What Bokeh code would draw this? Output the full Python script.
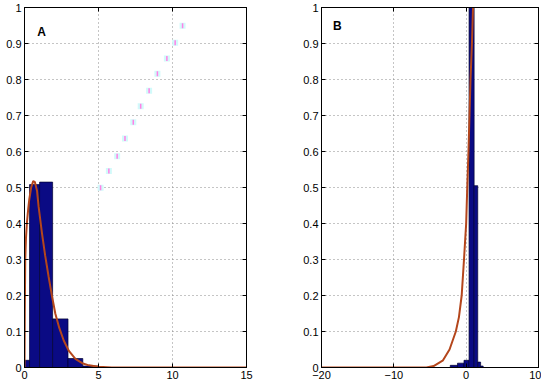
from bokeh.plotting import figure
from bokeh.layouts import row
from bokeh.models import Range1d, FixedTicker, LinearAxis
from bokeh.embed import file_html
from bokeh.resources import INLINE
from bokeh.core.properties import value

# ---------------- data ----------------
y_ticks = [0, 0.1, 0.2, 0.3, 0.4, 0.5, 0.6, 0.7, 0.8, 0.9, 1.0]
y_tick_labels = ["0", "0.1", "0.2", "0.3", "0.4", "0.5", "0.6", "0.7", "0.8", "0.9", "1"]
xa_ticks = [0, 5, 10, 15]
xa_tick_labels = ["0", "5", "10", "15"]
xb_ticks = [-20, -10, 0, 10]
xb_tick_labels = ["\u221220", "\u221210", "0", "10"]

# Panel A histogram
a_left = [0, 0.34, 1.02, 1.9, 2.94, 3.94]
a_right = [0.34, 1.02, 1.9, 2.94, 3.94, 5.0]
a_height = [0.02, 0.508, 0.515, 0.135, 0.025, 0.004]

# Panel A fitted curve
a_curve_x = [0, 0.02, 0.05, 0.1, 0.16, 0.25, 0.32, 0.45, 0.59, 0.7, 0.85, 0.95,
             1.18, 1.4, 1.63, 1.85, 2.08, 2.35, 2.65, 3.0, 3.44, 3.9, 4.35, 5.0,
             5.9, 8, 15]
a_curve_y = [0, 0.15, 0.30, 0.36, 0.40, 0.44, 0.466, 0.50, 0.518, 0.515, 0.49, 0.448,
             0.373, 0.31, 0.252, 0.20, 0.15, 0.11, 0.075, 0.046, 0.024, 0.012, 0.006, 0.002,
             0.0, 0, 0]

# Panel A faint diagonal marks
a_mark_x = [5.14, 5.70, 6.26, 6.79, 7.35, 7.85, 8.42, 8.98, 9.62, 10.18, 10.68]
a_mark_y = [0.499, 0.546, 0.587, 0.636, 0.681, 0.726, 0.769, 0.816, 0.858, 0.902, 0.949]

# Panel B histogram
b_left = [-2.2, -1.2, -0.3, 0.4, 1.1, 1.6, 2.0]
b_right = [-1.2, -0.3, 0.4, 1.1, 1.6, 2.0, 2.35]
b_height = [0.006, 0.012, 0.02, 1.6, 0.505, 0.015, 0.004]

# Panel B fitted curve
b_curve_x = [-20, -5.5, -4.5, -3.2, -2.3, -1.43, -1.0, -0.62, -0.3, 0.0, 0.15, 0.32,
             0.46, 0.6, 0.8, 0.95, 1.05]
b_curve_y = [0, 0, 0.004, 0.02, 0.05, 0.1, 0.14, 0.2, 0.3, 0.4, 0.5, 0.6,
             0.7, 0.8, 0.9, 1.0, 1.06]

BAR = "#0a0a84"
CURVE = "#b4461c"
FONT = "Liberation Sans"
H = 381


def make_panel(width, x_range, x_ticks, x_labels, border_left, border_right, label, lx, ly):
    p = figure(width=width, height=H, output_backend="svg", toolbar_location=None,
               x_range=Range1d(*x_range), y_range=Range1d(0, 1),
               min_border_left=border_left, min_border_top=7, min_border_bottom=0,
               min_border_right=border_right)
    p.outline_line_color = "black"
    p.outline_line_width = 1
    p.background_fill_color = "white"
    p.border_fill_color = "white"

    for ax, ticks, labels in ((p.xaxis[0], x_ticks, x_labels), (p.yaxis[0], y_ticks, y_tick_labels)):
        ax.ticker = FixedTicker(ticks=ticks)
        ax.major_label_overrides = {t: l for t, l in zip(ticks, labels)}
        ax.major_tick_in = 4
        ax.major_tick_out = 0
        ax.minor_tick_line_color = None
        ax.major_label_standoff = 3
        ax.major_label_text_font = FONT
        ax.major_label_text_font_size = "11px"
        ax.major_label_text_color = "black"
        ax.axis_line_color = "black"

    # mirrored ticks on top and right (no labels)
    top = LinearAxis(ticker=FixedTicker(ticks=x_ticks), major_label_text_color=None,
                     major_label_standoff=0, major_tick_in=4, major_tick_out=0,
                     minor_tick_line_color=None, axis_line_color="black")
    right = LinearAxis(ticker=FixedTicker(ticks=y_ticks), major_label_text_color=None,
                       major_label_standoff=0, major_tick_in=4, major_tick_out=0,
                       minor_tick_line_color=None, axis_line_color="black")
    p.add_layout(top, "above")
    p.add_layout(right, "right")

    p.xgrid.ticker = FixedTicker(ticks=x_ticks)
    p.ygrid.ticker = FixedTicker(ticks=y_ticks)
    for g in (p.xgrid[0], p.ygrid[0]):
        g.grid_line_color = "#8a8a8a"
        g.grid_line_dash = "1 3"
        g.grid_line_width = 1

    p.text(x=[lx], y=[ly], text=[label], text_font=value(FONT), text_font_style="bold",
           text_font_size="12px", text_align="center", text_baseline="middle",
           text_color="black")
    return p


pa = make_panel(293, (0, 15), xa_ticks, xa_tick_labels, 24, 47, "A", 1.15, 0.933)
pa.scatter(a_mark_x, a_mark_y, marker="square", size=6, fill_color="#d2fafa",
           line_color=None)
pa.scatter(a_mark_x, a_mark_y, marker="dash", angle=1.5708, size=5,
           line_color="#ff80e6", line_width=1.5)
pa.quad(left=a_left, right=a_right, bottom=0, top=a_height, fill_color=BAR,
        line_color="#000030", line_width=0.7)
pa.line(a_curve_x, a_curve_y, line_color=CURVE, line_width=2)

pb = make_panel(248, (-20, 10), xb_ticks, xb_tick_labels, 28, 3, "B", -17.8, 0.948)
pb.quad(left=b_left, right=b_right, bottom=0, top=b_height, fill_color=BAR,
        line_color="#000030", line_width=0.7)
pb.line(b_curve_x, b_curve_y, line_color=CURVE, line_width=2)

layout = row(pa, pb)
open("out.html", "w").write(file_html(layout, INLINE))
